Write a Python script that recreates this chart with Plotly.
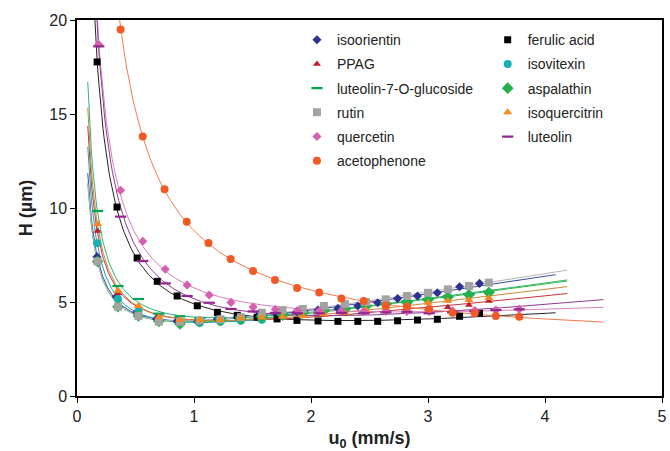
import numpy as np
import plotly.graph_objects as go

# ---------------- data ----------------
isoorientin_u = [0.17, 0.336, 0.51, 0.68, 0.855, 1.03, 1.20, 1.37, 1.54, 1.71, 1.88, 2.06, 2.23, 2.40, 2.57, 2.74, 2.91, 3.08, 3.27, 3.44]
isoorientin_h = [7.4, 5.28, 4.45, 4.10, 3.97, 3.95, 4.10, 4.19, 4.22, 4.31, 4.48, 4.57, 4.66, 4.79, 4.96, 5.18, 5.32, 5.49, 5.81, 5.99]

ferulic_u = [0.172, 0.342, 0.514, 0.686, 0.856, 1.028, 1.20, 1.37, 1.54, 1.71, 1.88, 2.06, 2.23, 2.40, 2.57, 2.74, 2.91, 3.08, 3.27, 3.44]
ferulic_h = [17.77, 10.05, 7.34, 6.10, 5.32, 4.80, 4.45, 4.29, 4.19, 4.10, 4.02, 3.99, 3.97, 3.97, 3.97, 4.00, 4.04, 4.08, 4.24, 4.40]

low_u = [0.176, 0.35, 0.525, 0.70, 0.88, 1.05, 1.226, 1.40, 1.58, 1.757, 1.93, 2.11, 2.29, 2.47, 2.64, 2.82, 3.0, 3.17, 3.35, 3.52]
ppag_h = [8.78, 5.45, 4.62, 4.22, 4.05, 4.02, 4.05, 4.10, 4.15, 4.20, 4.25, 4.32, 4.38, 4.45, 4.50, 4.57, 4.64, 4.72, 4.84, 5.05]
isovitexin_u = [0.172, 0.35, 0.525, 0.70, 0.88, 1.05, 1.226, 1.40, 1.58]
isovitexin_h = [8.12, 5.16, 4.49, 4.05, 3.92, 3.90, 3.95, 4.00, 4.05]
l7g_h = [9.84, 5.85, 5.16, 4.38, 4.24, 4.15, 4.15, 4.20, 4.28, 4.38, 4.48, 4.58, 4.68, 4.80, 4.92, 5.04, 5.16, 5.29, 5.42, 5.55]
aspalathin_h = [7.16, 4.75, 4.26, 3.97, 3.83, 3.95, 4.02, 4.10, 4.20, 4.30, 4.42, 4.54, 4.62, 4.77, 4.90, 4.96, 5.12, 5.26, 5.38, 5.50]
rutin_h = [7.16, 4.75, 4.26, 3.95, 3.95, 4.02, 4.08, 4.19, 4.43, 4.57, 4.63, 4.79, 4.89, 5.00, 5.14, 5.32, 5.49, 5.67, 5.85, 6.03]
isoquercitrin_h = [9.15, 5.60, 4.79, 4.19, 4.04, 4.04, 4.04, 4.13, 4.17, 4.22, 4.26, 4.36, 4.43, 4.57, 4.68, 4.80, 4.96, 5.07, 5.11, 5.21]

flav_u = [0.186, 0.373, 0.562, 0.754, 0.941, 1.13, 1.316, 1.506, 1.695, 1.884, 2.07, 2.26, 2.45, 2.64, 2.82, 3.01, 3.21, 3.40, 3.58, 3.78]
quercetin_h = [18.7, 10.94, 8.23, 6.74, 5.90, 5.37, 4.98, 4.73, 4.61, 4.55, 4.52, 4.52, 4.50, 4.50, 4.50, 4.50, 4.52, 4.55, 4.57, 4.62]
luteolin_h = [18.6, 9.54, 7.18, 5.99, 5.32, 4.96, 4.63, 4.50, 4.42, 4.40, 4.40, 4.42, 4.40, 4.45, 4.48, 4.40, 4.45, 4.50, 4.57, 4.61]

acetophenone_u = [0.373, 0.562, 0.748, 0.938, 1.124, 1.313, 1.505, 1.692, 1.881, 2.07, 2.26, 2.45, 2.64, 2.82, 3.01, 3.21, 3.40, 3.58, 3.78]
acetophenone_h = [19.5, 13.8, 11.0, 9.27, 8.14, 7.29, 6.65, 6.17, 5.74, 5.50, 5.18, 5.05, 4.82, 4.75, 4.63, 4.43, 4.40, 4.26, 4.22]

# fitted-curve range (u) per series
fit_end = {
    "isoorientin": 4.09, "ferulic acid": 4.09, "PPAG": 4.19, "isovitexin": 1.75,
    "luteolin-7-O-glucoside": 4.19, "aspalathin": 4.19, "rutin": 4.19,
    "isoquercitrin": 4.19, "quercetin": 4.5, "luteolin": 4.5, "acetophenone": 4.5,
}

series = [
    # name, u, H, symbol, marker colour, line colour, size, legend column
    ("isoorientin", isoorientin_u, isoorientin_h, "diamond", "#2e3192", "#3b4aa0", 7, "legend"),
    ("ferulic acid", ferulic_u, ferulic_h, "square", "#000000", "#222222", 7, "legend2"),
    ("PPAG", low_u, ppag_h, "triangle-up", "#be1e2d", "#c8303a", 7, "legend"),
    ("isovitexin", isovitexin_u, isovitexin_h, "circle", "#19b0b4", "#1a9fc0", 8, "legend2"),
    ("luteolin-7-O-glucoside", low_u, l7g_h, "line-ew", "#00a651", "#2cb573", 8, "legend"),
    ("aspalathin", low_u, aspalathin_h, "diamond", "#22b24c", "#39b54a", 9, "legend2"),
    ("rutin", low_u, rutin_h, "square", "#a3a3a3", "#b5b5b5", 8, "legend"),
    ("isoquercitrin", low_u, isoquercitrin_h, "triangle-up", "#f7871f", "#c88a3a", 8, "legend2"),
    ("quercetin", flav_u, quercetin_h, "diamond", "#d65fb2", "#d77fc0", 7, "legend"),
    ("luteolin", flav_u, luteolin_h, "line-ew", "#92278f", "#8e3a8e", 8, "legend2"),
    ("acetophenone", acetophenone_u, acetophenone_h, "circle", "#f15a24", "#f37a50", 8, "legend"),
]

fig = go.Figure()

# fitted van Deemter curves H = A + B/u + C*u, least squares on the read points
for name, u, h, sym, mcol, lcol, size, leg in series:
    u_arr = np.array(u)
    design = np.column_stack([np.ones_like(u_arr), 1.0 / u_arr, u_arr])
    coef, *_ = np.linalg.lstsq(design, np.array(h), rcond=None)
    ug = np.linspace(0.092, fit_end[name], 400)
    hg = coef[0] + coef[1] / ug + coef[2] * ug
    fig.add_trace(go.Scatter(x=ug, y=hg, mode="lines", showlegend=False,
                             line=dict(color=lcol, width=1), hoverinfo="skip"))

for name, u, h, sym, mcol, lcol, size, leg in series:
    mk = dict(symbol=sym, color=mcol, size=size)
    if sym == "line-ew":
        mk["line"] = dict(color=mcol, width=2.2)
    fig.add_trace(go.Scatter(x=u, y=h, mode="markers", name=name, marker=mk,
                             legend=leg, legendgroup=name))

font_family = "Liberation Sans, Arial, sans-serif"
leg_common = dict(orientation="v", yanchor="top", xanchor="left",
                  font=dict(size=14, color="#222222"), bgcolor="rgba(0,0,0,0)",
                  itemwidth=30, tracegroupgap=3)
fig.update_layout(
    width=670, height=451,
    margin=dict(l=77, r=3, t=20, b=55),
    paper_bgcolor="white", plot_bgcolor="white",
    font=dict(family=font_family, size=16, color="#222222"),
    legend=dict(x=0.376, y=0.989, **leg_common),
    legend2=dict(x=0.702, y=0.989, **leg_common),
    showlegend=True,
)
fig.update_xaxes(range=[0, 5], tickvals=[0, 1, 2, 3, 4, 5], showgrid=False, zeroline=False,
                 showline=True, linecolor="#000000", linewidth=1.5, mirror=True,
                 ticks="outside", ticklen=5, tickcolor="#000000",
                 title=dict(text="<b>u<sub>0</sub> (mm/s)</b>", font=dict(size=18), standoff=10))
fig.update_yaxes(range=[0, 20], tickvals=[0, 5, 10, 15, 20], showgrid=False, zeroline=False,
                 showline=True, linecolor="#000000", linewidth=1.5, mirror=True,
                 ticks="outside", ticklen=5, tickcolor="#000000",
                 title=dict(text="<b>H (µm)</b>", font=dict(size=18), standoff=12))

fig.write_html("out.html")
